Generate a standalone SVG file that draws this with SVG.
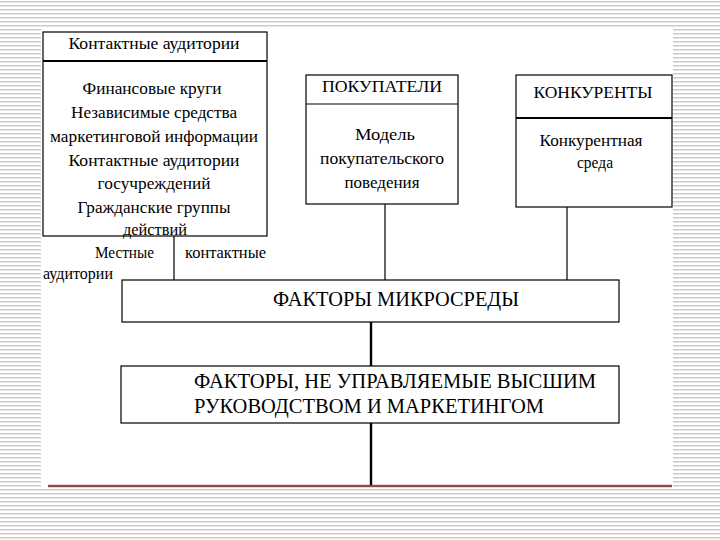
<svg xmlns="http://www.w3.org/2000/svg" width="720" height="540" viewBox="0 0 720 540">
<defs>
<pattern id="stripes" x="0" y="0" width="4" height="4" patternUnits="userSpaceOnUse">
<rect x="0" y="0" width="4" height="4" fill="#ffffff"/>
<rect x="0" y="1" width="4" height="1" fill="#cdcdcd"/>
<rect x="0" y="2" width="4" height="1" fill="#e4e4e4"/>
</pattern>
</defs>
<style>
.box{fill:#ffffff;stroke:#000000;stroke-width:1.2}
.div{stroke:#000000;stroke-width:1.2}
.divb{stroke:#000000;stroke-width:2.2}
text{font-family:"Liberation Serif",serif}
.t{font-size:17px;fill:#000000;text-anchor:middle}
.tl{font-size:17px;fill:#000000}
.big{font-size:22px;fill:#000000}
.c{stroke:#000000;stroke-width:1.2;fill:none}
.cb{stroke:#000000;stroke-width:2.4;fill:none}
</style>
<rect x="0" y="0" width="720" height="540" fill="url(#stripes)"/>
<rect x="41" y="27" width="632" height="460" fill="#ffffff"/>
<line x1="48" y1="486" x2="672" y2="486" stroke="#f4d6d6" stroke-width="4"/>
<line x1="48" y1="486" x2="672" y2="486" stroke="#6b1a1a" stroke-width="1.4"/>

<g id="connectors">
<line class="c" x1="174" y1="236" x2="174" y2="280"/>
<line class="c" x1="385" y1="204" x2="385" y2="280"/>
<line class="c" x1="567" y1="207" x2="567" y2="280"/>
<line class="cb" x1="371" y1="322" x2="371" y2="366"/>
<line class="cb" x1="371" y1="423" x2="371" y2="485"/>
</g>

<g id="kontaktnye" font-family="Liberation Serif, serif">
<rect class="box" x="43" y="32" width="224" height="204"/>
<line class="divb" x1="43" y1="61" x2="267" y2="61"/>
<text class="t" x="154" y="49" textLength="171" lengthAdjust="spacingAndGlyphs">Контактные аудитории</text>
<text class="t" x="152" y="94" textLength="139" lengthAdjust="spacingAndGlyphs">Финансовые круги</text>
<text class="t" x="154" y="118" textLength="166" lengthAdjust="spacingAndGlyphs">Независимые средства</text>
<text class="t" x="154" y="142" textLength="208" lengthAdjust="spacingAndGlyphs">маркетинговой информации</text>
<text class="t" x="154" y="166" textLength="171" lengthAdjust="spacingAndGlyphs">Контактные аудитории</text>
<text class="t" x="154" y="189" textLength="113" lengthAdjust="spacingAndGlyphs">госучреждений</text>
<text class="t" x="154" y="213" textLength="153" lengthAdjust="spacingAndGlyphs">Гражданские группы</text>
<text class="t" x="155" y="235" textLength="64" lengthAdjust="spacingAndGlyphs">действий</text>
<text class="tl" x="95" y="258" textLength="59" lengthAdjust="spacingAndGlyphs">Местные</text>
<text class="tl" x="185" y="258" textLength="81" lengthAdjust="spacingAndGlyphs">контактные</text>
<text class="tl" x="43" y="279" textLength="70" lengthAdjust="spacingAndGlyphs">аудитории</text>
</g>

<g id="pokupateli" font-family="Liberation Serif, serif">
<rect class="box" x="306" y="75" width="152" height="129"/>
<line class="div" x1="306" y1="104" x2="458" y2="104"/>
<text class="t" x="382" y="92" textLength="120" lengthAdjust="spacingAndGlyphs">ПОКУПАТЕЛИ</text>
<text class="t" x="385" y="140" textLength="60" lengthAdjust="spacingAndGlyphs">Модель</text>
<text class="t" x="382" y="164" textLength="124" lengthAdjust="spacingAndGlyphs">покупательского</text>
<text class="t" x="382" y="188" textLength="75" lengthAdjust="spacingAndGlyphs">поведения</text>
</g>

<g id="konkurenty" font-family="Liberation Serif, serif">
<rect class="box" x="516" y="75" width="156" height="132"/>
<line class="divb" x1="516" y1="118" x2="672" y2="118"/>
<text class="t" x="593" y="98" textLength="119" lengthAdjust="spacingAndGlyphs">КОНКУРЕНТЫ</text>
<text class="t" x="591" y="146" textLength="103" lengthAdjust="spacingAndGlyphs">Конкурентная</text>
<text class="t" x="595" y="168" textLength="36" lengthAdjust="spacingAndGlyphs">среда</text>
</g>

<g id="mikrosreda" font-family="Liberation Serif, serif">
<rect class="box" x="122" y="280" width="497" height="42"/>
<text class="big" x="273" y="306" textLength="246" lengthAdjust="spacingAndGlyphs">ФАКТОРЫ МИКРОСРЕДЫ</text>
</g>

<g id="neupravlyaemye" font-family="Liberation Serif, serif">
<rect class="box" x="121" y="366" width="498" height="57"/>
<text class="big" x="194" y="388" textLength="402" lengthAdjust="spacingAndGlyphs">ФАКТОРЫ, НЕ УПРАВЛЯЕМЫЕ ВЫСШИМ</text>
<text class="big" x="194" y="413" textLength="350" lengthAdjust="spacingAndGlyphs">РУКОВОДСТВОМ И МАРКЕТИНГОМ</text>
</g>
</svg>
